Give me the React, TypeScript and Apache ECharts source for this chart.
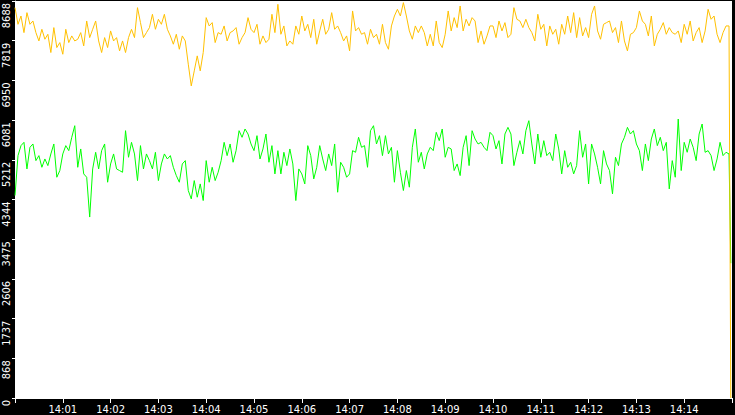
import React, { useEffect, useRef } from "react";
import * as echarts from "echarts";

// seconds after 14:00 between two samples
const SAMPLE_SECONDS = 3.75;
const END_SECONDS = 898.5;

const yTickLabels = ["0", "868", "1737", "2606", "3475", "4344", "5212", "6081", "6950", "7819", "8688"];
const xTickLabels = ["", "14:01", "14:02", "14:03", "14:04", "14:05", "14:06", "14:07", "14:08", "14:09", "14:10", "14:11", "14:12", "14:13", "14:14", ""];

const yellowA = [
  8542, 8178, 8360, 7996, 8433, 8178, 8251, 7996, 7814, 8069,
  7851, 7960, 7560, 8106, 7669, 7778, 7523, 8069, 7778, 7924,
  7814, 7851, 7996, 7705, 8251, 7887, 8069, 8251, 7814, 7560,
  7887, 7669, 8033, 7814, 7887, 7596, 7814, 7560, 7887, 8069,
  7887, 8542, 8215, 7887, 7996, 8106, 8397, 8069, 8288, 8178,
  8397, 8069, 7924, 7742, 7960, 7632, 7924, 7814, 7305, 6830,
  7159, 7487, 7159, 7560, 8324, 8142, 8215, 7778, 7996, 7960,
  8142, 7814, 7996, 8033, 8106, 7742, 7887, 7996, 8324, 8069,
];
const yellowB = [
  7996, 8178, 7742, 7924, 7778, 7851, 8397, 7996, 8615, 7960,
  8142, 7705, 7814, 7742, 8142, 7960, 8360, 8033, 8178, 7887,
  8288, 7742, 8033, 8288, 7960, 8069, 8433, 8069, 8142, 7996,
  7814, 7924, 7596, 8470, 8033, 8106, 7960, 7996, 7742, 8069,
  7887, 7960, 7742, 8178, 7778, 7632, 8142, 8360, 8506, 8360,
  8652, 8360, 8033, 7851, 8142, 7996, 8142, 7996, 7705, 7960,
  7705, 8251, 7778, 7669, 7960, 8470, 8033, 8324, 8106, 8579,
  8033, 8288, 8142, 8324, 8251, 7778, 8033, 7742, 7924, 8142,
];
const yellowC = [
  8142, 7887, 8251, 8033, 8215, 7887, 7960, 8542, 8288, 8251,
  8106, 8288, 8106, 7996, 7814, 8397, 8069, 8178, 7705, 8142,
  7960, 8069, 7742, 8178, 7960, 8360, 7996, 8433, 7887, 8324,
  7924, 8106, 7887, 8397, 8579, 8033, 7851, 8178, 8215, 8251,
  7996, 8106, 7778, 8251, 7814, 7596, 7960, 7996, 8106, 8470,
  8251, 8178, 7924, 8360, 7705, 7960, 8069, 8215, 7960, 8106,
  7996, 7960, 8033, 7778, 8178, 7960, 8251, 7814, 7996, 8106,
  7778, 8033, 8506, 8288, 8360, 7960, 7778, 7996, 8142, 8142,
];
const yellowLast = 0;

const greenA = [
  4431, 5304, 5523, 5595, 5013, 5486, 5559, 5195, 5304, 5049,
  5231, 5086, 5341, 5559, 4831, 4977, 5341, 5523, 5413, 5705,
  5959, 5049, 5450, 4904, 4831, 3960, 5013, 5377, 5013, 5413,
  5559, 4722, 5122, 5341, 5013, 4977, 4940, 5850, 5268, 5595,
  5341, 4758, 5523, 5013, 5341, 5195, 5013, 5377, 4758, 5122,
  5341, 5231, 5304, 5049, 4867, 4722, 5122, 5195, 4540, 4358,
  4758, 4394, 4685, 4321, 5195, 4722, 5049, 4758, 4940, 5195,
  5595, 5304, 5559, 5159, 5413, 5850, 5705, 5887, 5777, 5559,
];
const greenB = [
  5413, 5741, 5231, 5450, 5777, 5159, 5523, 4904, 5413, 4904,
  5377, 5086, 5450, 5122, 4321, 5013, 4904, 4685, 5523, 5304,
  4795, 5049, 5523, 5231, 4977, 5341, 5086, 5559, 4503, 5159,
  5049, 4831, 4904, 5413, 5377, 5705, 5486, 5523, 5049, 5850,
  5959, 5559, 5741, 5304, 5741, 5341, 5486, 4722, 5413, 4940,
  4540, 4977, 4613, 5486, 5887, 5159, 5377, 5013, 5341, 5486,
  5413, 5814, 5632, 5887, 5268, 5486, 5450, 4977, 5122, 4867,
  5486, 5741, 5086, 5850, 5668, 5559, 5595, 5486, 5413, 5814,
];
const greenC = [
  5741, 5450, 5632, 5122, 5777, 5923, 5777, 5086, 5377, 5632,
  5341, 5850, 6069, 5559, 5122, 5777, 5268, 5632, 5304, 5377,
  5195, 5777, 5450, 4904, 5413, 5049, 5159, 4904, 5086, 5850,
  5268, 5559, 4685, 5559, 5341, 5049, 4685, 5413, 5122, 4977,
  4467, 5268, 5086, 5559, 5705, 5923, 5777, 5850, 5559, 5413,
  4977, 5559, 5195, 5668, 5887, 5523, 5705, 5413, 5595, 4576,
  5195, 4831, 6105, 4977, 5595, 5377, 5668, 5486, 5195, 5777,
  5996, 5377, 5413, 5304, 4977, 5231, 5595, 5304, 5377, 5341,
];
const greenLast = 2950;

function toPoints(values: number[], last: number): [number, number][] {
  const pts: [number, number][] = values.map((v, i) => [i * SAMPLE_SECONDS, v]);
  pts.push([END_SECONDS, last]);
  return pts;
}

export default function App() {
  const ref = useRef<HTMLDivElement>(null);
  useEffect(() => {
    document.body.style.margin = "0";
    document.body.style.background = "#000";
    const chart = echarts.init(ref.current!, null, { renderer: "svg" });
    chart.setOption({
      animation: false,
      backgroundColor: "#000000",
      grid: {
        left: 15,
        right: 0,
        top: 0,
        bottom: 17,
        show: true,
        backgroundColor: "#ffffff",
        borderWidth: 0,
      },
      xAxis: {
        type: "value",
        min: 0,
        max: 900,
        interval: 60,
        splitLine: { show: false },
        axisLine: { show: true, lineStyle: { color: "#ffffff", width: 1 } },
        axisTick: { show: true, length: 5, lineStyle: { color: "#ffffff" } },
        axisLabel: {
          color: "#ffffff",
          fontFamily: "DejaVu Sans",
          fontSize: 10,
          margin: 6,
          formatter: (_v: number, i: number) => xTickLabels[i] ?? "",
        },
      },
      yAxis: {
        type: "value",
        min: 0,
        max: 8688,
        interval: 868.8,
        splitLine: { show: false },
        axisLine: { show: true, lineStyle: { color: "#ffffff", width: 1 } },
        axisTick: { show: true, length: 3, lineStyle: { color: "#ffffff" } },
        axisLabel: {
          color: "#ffffff",
          fontFamily: "'Liberation Sans Narrow', 'DejaVu Sans Condensed', sans-serif",
          fontSize: 11,
          rotate: 90,
          margin: 3,
          align: "right",
          padding: [0, 2, 0, 0],
          formatter: (_v: number, i: number) => yTickLabels[i] ?? "",
        },
      },
      series: [
        {
          type: "line",
          data: toPoints([...greenA, ...greenB, ...greenC], greenLast),
          showSymbol: false,
          lineStyle: { color: "#00ff00", width: 1 },
          itemStyle: { color: "#00ff00" },
        },
        {
          type: "line",
          data: toPoints([...yellowA, ...yellowB, ...yellowC], yellowLast),
          showSymbol: false,
          lineStyle: { color: "#ffc000", width: 1 },
          itemStyle: { color: "#ffc000" },
        },
      ],
    });
    return () => chart.dispose();
  }, []);
  return <div ref={ref} style={{ width: 735, height: 415 }} />;
}
